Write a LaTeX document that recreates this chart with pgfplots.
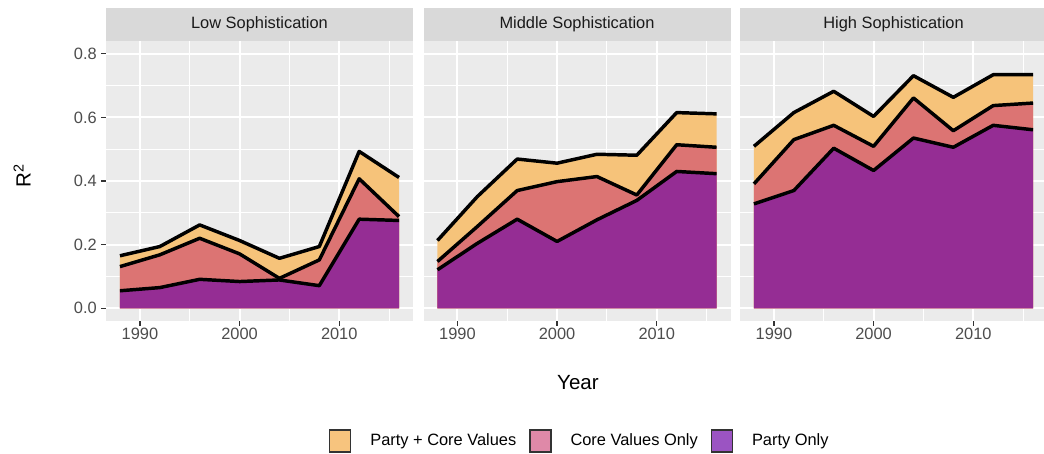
\documentclass[border=0pt]{standalone}
\usepackage{fontspec}
\setmainfont{Liberation Sans}
\usepackage{pgfplots}
\usepackage{pgfplotstable}
\pgfplotsset{compat=1.18}

\definecolor{panelbg}{HTML}{EBEBEB}
\definecolor{stripbg}{HTML}{D9D9D9}
\definecolor{stripfg}{HTML}{1A1A1A}
\definecolor{ticktext}{HTML}{4D4D4D}
\definecolor{tickline}{HTML}{333333}
\definecolor{pcv}{HTML}{F6C37A}
\definecolor{cvo}{HTML}{DC7473}
\definecolor{po}{HTML}{952D94}
\definecolor{pcvkey}{HTML}{F7C47E}
\definecolor{cvokey}{HTML}{DF89A8}
\definecolor{pokey}{HTML}{9B54C2}

\newcommand\fs{\fontsize{12.3}{14}\selectfont}
\newcommand\fl{\fontsize{15.4}{18}\selectfont}

% R^2 by election year: party + core values, core values only, party only
\pgfplotstableread{
year pcv   cvo   po
1988 0.165 0.131 0.055
1992 0.194 0.168 0.065
1996 0.262 0.220 0.091
2000 0.213 0.171 0.084
2004 0.157 0.094 0.089
2008 0.194 0.152 0.071
2012 0.493 0.407 0.280
2016 0.411 0.288 0.276
}\lowdata
\pgfplotstableread{
year pcv   cvo   po
1988 0.213 0.147 0.121
1992 0.351 0.257 0.204
1996 0.469 0.370 0.280
2000 0.456 0.398 0.210
2004 0.484 0.414 0.278
2008 0.481 0.356 0.339
2012 0.615 0.514 0.430
2016 0.611 0.506 0.423
}\middata
\pgfplotstableread{
year pcv   cvo   po
1988 0.509 0.391 0.328
1992 0.615 0.530 0.370
1996 0.682 0.575 0.503
2000 0.603 0.509 0.433
2004 0.731 0.661 0.535
2008 0.663 0.558 0.506
2012 0.734 0.637 0.575
2016 0.734 0.645 0.561
}\highdata

\tikzset{legkey/.style={fill=#1, draw=black!80, line width=0.9pt}}

\pgfplotsset{
  facet/.style={
    scale only axis, width=230.25pt, height=210pt,
    anchor=north west,
    xmin=1986.6, xmax=2017.4, ymin=-0.04, ymax=0.84,
    axis background/.style={fill=panelbg},
    axis x line*=bottom, axis y line*=left,
    axis line style={draw=none},
    xtick={1990,2000,2010}, xticklabels={1990,2000,2010},
    ytick={0,0.2,0.4,0.6,0.8},
    minor xtick={1985,1995,2005,2015},
    minor ytick={0.1,0.3,0.5,0.7},
    grid=both,
    major grid style={white, line width=1.5pt},
    minor grid style={white, line width=0.75pt},
    tick align=outside,
    major tick length=3.75pt, minor tick length=0pt,
    tick style={tickline, line width=1pt},
    ticklabel style={font=\fs, text=ticktext, inner sep=0pt},
    xticklabel style={yshift=-1.5pt},
    yticklabel style={xshift=-3pt},
    clip=false,
  },
  noy/.style={yticklabels={}, ytick style={draw=none}},
  area/.style={draw=none, fill=#1},
  edge/.style={draw=black, line width=2.6pt, line join=round, forget plot},
}

\newcommand\strip[1]{%
  \fill[stripbg] (rel axis cs:0,1) rectangle ([yshift=24.75pt]rel axis cs:1,1);
  \node[font=\fs, text=stripfg] at ([yshift=12.4pt]rel axis cs:0.5,1) {#1};
}

\newcommand\facetplots[1]{%
  \addplot[area=pcv] table[x=year, y=pcv] {#1} \closedcycle;
  \addplot[edge] table[x=year, y=pcv] {#1};
  \addplot[area=cvo] table[x=year, y=cvo] {#1} \closedcycle;
  \addplot[edge] table[x=year, y=cvo] {#1};
  \addplot[area=po] table[x=year, y=po] {#1} \closedcycle;
  \addplot[edge] table[x=year, y=po] {#1};
}

\begin{document}
\begin{tikzpicture}
\path[use as bounding box, fill=white] (0,0) rectangle (783pt,-339.75pt);

\begin{axis}[facet, at={(79.5pt,-30.75pt)},
  yticklabels={0.0,0.2,0.4,0.6,0.8},
  ylabel={R\textsuperscript{2}},
  ylabel style={font=\fl, at={(axis description cs:-0.2736,0.52)}, anchor=center}]
  \facetplots{\lowdata}
  \strip{Low Sophistication}
\end{axis}

\begin{axis}[facet, noy, at={(317.625pt,-30.75pt)},
  xlabel={Year},
  xlabel style={font=\fl, at={(axis description cs:0.503,-0.218)}, anchor=center},
  legend columns=3,
  legend style={draw=none, fill=none, font=\fs,
    at={(axis description cs:0.506,-0.4286)}, anchor=center,
    nodes={inner sep=0pt},
    /tikz/every odd column/.append style={column sep=14.25pt},
    /tikz/every even column/.append style={column sep=9.75pt}}]
  \addplot[area=pcv, legend image code/.code={\draw[legkey=pcvkey] (0pt,-8.25pt) rectangle (15.75pt,8.25pt);}]
    table[x=year, y=pcv] {\middata} \closedcycle;
  \addlegendentry{Party + Core Values}
  \addplot[edge] table[x=year, y=pcv] {\middata};
  \addplot[area=cvo, legend image code/.code={\draw[legkey=cvokey] (0pt,-8.25pt) rectangle (15.75pt,8.25pt);}]
    table[x=year, y=cvo] {\middata} \closedcycle;
  \addlegendentry{Core Values Only}
  \addplot[edge] table[x=year, y=cvo] {\middata};
  \addplot[area=po, legend image code/.code={\draw[legkey=pokey] (0pt,-8.25pt) rectangle (15.75pt,8.25pt);}]
    table[x=year, y=po] {\middata} \closedcycle;
  \addlegendentry{Party Only}
  \addplot[edge] table[x=year, y=po] {\middata};
  \strip{Middle Sophistication}
\end{axis}

\begin{axis}[facet, noy, at={(555pt,-30.75pt)}]
  \facetplots{\highdata}
  \strip{High Sophistication}
\end{axis}
\end{tikzpicture}
\end{document}
